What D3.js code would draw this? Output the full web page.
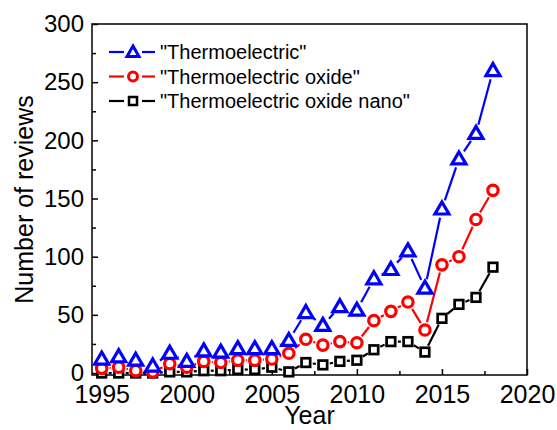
<!DOCTYPE html>
<html>
<head>
<meta charset="utf-8">
<script src="https://cdn.jsdelivr.net/npm/d3@7"></script>
<style>
  body { margin: 0; background: #fff; }
  text { font-family: "Liberation Sans", Arial, sans-serif; }
</style>
</head>
<body>
<div id="chart"></div>
<script>
var years = d3.range(1995, 2019);
var thermo = [12, 14, 11, 6, 17, 10, 19, 18, 21, 21, 21, 28, 52, 41, 57, 54, 81, 89, 105, 73, 141, 184, 206, 260];
var oxide = [4, 5, 2, 1, 8, 5, 10, 9, 11, 11, 12, 17, 29, 24, 27, 26, 45, 53, 61, 37, 93, 100, 132, 157];
var nano = [0, 0, 0, 0, 1, 1, 2, 2, 3, 3, 5, 1, 9, 7, 10, 11, 20, 27, 27, 18, 47, 59, 65, 91];
var seriesNames = ['"Thermoelectric"', '"Thermoelectric oxide"', '"Thermoelectric oxide nano"'];
var xTicks = [1995, 2000, 2005, 2010, 2015, 2020];
var yTicks = [0, 50, 100, 150, 200, 250, 300];

var svgWidth = 557, svgHeight = 430;
var margin = {top: 24, right: 30, bottom: 55, left: 92};
var width = svgWidth - margin.left - margin.right;
var height = svgHeight - margin.top - margin.bottom;

var svg = d3.select("#chart").append("svg")
  .attr("width", svgWidth)
  .attr("height", svgHeight);

var g = svg.append("g")
  .attr("transform", `translate(${margin.left}, ${margin.top})`);

var x = d3.scaleLinear().domain([1994.43, 2020]).range([0, width]);
var y = d3.scaleLinear().domain([-1.7, 300]).range([height, 0]);

// axes with inward ticks
var xAxis = g.append("g")
  .attr("transform", `translate(0, ${height})`)
  .call(d3.axisBottom(x).tickValues(xTicks).tickFormat(d3.format("d")).tickSize(-6).tickPadding(10));
var xMinor = g.append("g")
  .attr("transform", `translate(0, ${height})`)
  .call(d3.axisBottom(x).tickValues([1997.5, 2002.5, 2007.5, 2012.5, 2017.5]).tickFormat("").tickSize(-4));
var yAxis = g.append("g")
  .call(d3.axisLeft(y).tickValues(yTicks).tickSize(-6).tickPadding(8));
var yMinor = g.append("g")
  .call(d3.axisLeft(y).tickValues([25, 75, 125, 175, 225, 275]).tickFormat("").tickSize(-4));

[xAxis, xMinor, yAxis, yMinor].forEach(function(a) {
  a.select(".domain").remove();
  a.selectAll("line").attr("stroke", "#000").attr("stroke-width", 1.5);
  a.selectAll("text").attr("font-size", 24).attr("fill", "#000")
    .style("font-family", '"Liberation Sans", Arial, sans-serif');
});
xAxis.selectAll("text").attr("font-size", 25);

g.append("rect")
  .attr("width", width).attr("height", height)
  .attr("fill", "none").attr("stroke", "#000").attr("stroke-width", 1.5);

// series, drawn back to front
var series = [
  {values: nano, color: "#000", shape: "square", gap: 7},
  {values: oxide, color: "#f00", shape: "circle", gap: 8},
  {values: thermo, color: "#00f", shape: "triangle", gap: 9}
];

function drawMarker(sel, shape, color) {
  if (shape === "triangle") {
    sel.append("path").attr("d", "M0,-7 L7,5 L-7,5 Z")
      .attr("fill", "#fff").attr("stroke", color).attr("stroke-width", 3.2);
  } else if (shape === "circle") {
    sel.append("circle").attr("r", 5.2)
      .attr("fill", "#fff").attr("stroke", color).attr("stroke-width", 3.2);
  } else {
    sel.append("rect").attr("x", -4.3).attr("y", -4.3).attr("width", 8.6).attr("height", 8.6)
      .attr("fill", "#fff").attr("stroke", color).attr("stroke-width", 2.7);
  }
}

series.forEach(function(s) {
  var pts = years.map(function(yr, i) { return [x(yr), y(s.values[i])]; });
  var segs = d3.pairs(pts).map(function(p) {
    var dx = p[1][0] - p[0][0], dy = p[1][1] - p[0][1];
    var len = Math.sqrt(dx * dx + dy * dy);
    if (len <= 2 * s.gap) return null;
    var ux = dx / len, uy = dy / len;
    return [p[0][0] + ux * s.gap, p[0][1] + uy * s.gap, p[1][0] - ux * s.gap, p[1][1] - uy * s.gap];
  }).filter(function(d) { return d; });
  g.append("g").selectAll("line").data(segs).enter().append("line")
    .attr("x1", d => d[0]).attr("y1", d => d[1])
    .attr("x2", d => d[2]).attr("y2", d => d[3])
    .attr("stroke", s.color).attr("stroke-width", 2.2);
  var mk = g.append("g").selectAll("g").data(pts).enter().append("g")
    .attr("transform", d => `translate(${d[0]}, ${d[1]})`);
  drawMarker(mk, s.shape, s.color);
});

// legend
var legendItems = [
  {name: seriesNames[0], color: "#00f", shape: "triangle"},
  {name: seriesNames[1], color: "#f00", shape: "circle"},
  {name: seriesNames[2], color: "#000", shape: "square"}
];
var legend = svg.append("g");
legendItems.forEach(function(d, i) {
  var row = legend.append("g").attr("transform", `translate(0, ${52 + i * 24.5})`);
  row.append("line").attr("x1", 109).attr("x2", 124).attr("stroke", d.color).attr("stroke-width", 2.2);
  row.append("line").attr("x1", 142).attr("x2", 155).attr("stroke", d.color).attr("stroke-width", 2.2);
  var m = row.append("g").attr("transform", "translate(133, 0)");
  if (d.shape === "triangle") {
    m.append("path").attr("d", "M0,-6 L6,4.5 L-6,4.5 Z")
      .attr("fill", "#fff").attr("stroke", d.color).attr("stroke-width", 3);
  } else if (d.shape === "circle") {
    m.append("circle").attr("r", 4.5).attr("fill", "#fff").attr("stroke", d.color).attr("stroke-width", 3);
  } else {
    m.append("rect").attr("x", -4).attr("y", -4).attr("width", 8).attr("height", 8)
      .attr("fill", "#fff").attr("stroke", d.color).attr("stroke-width", 2.5);
  }
  row.append("text").attr("x", 160).attr("y", 0).attr("dy", "0.35em")
    .attr("font-size", 20).text(d.name);
});

// axis titles
svg.append("text")
  .attr("x", margin.left + width / 2).attr("y", 424)
  .attr("text-anchor", "middle").attr("font-size", 25).text("Year");

svg.append("text")
  .attr("transform", `translate(33, ${margin.top + height / 2}) rotate(-90)`)
  .attr("text-anchor", "middle").attr("font-size", 25).text("Number of reviews");
</script>
</body>
</html>
